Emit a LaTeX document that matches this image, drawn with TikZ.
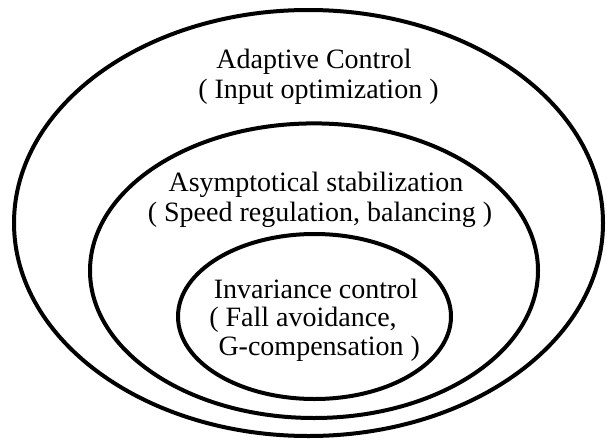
\documentclass[tikz,border=0pt]{standalone}
\usepackage{fontspec}
\setmainfont{Liberation Serif}
\begin{document}
\begin{tikzpicture}[x=1pt,y=-1pt,
  ring/.style={line width=4pt},
  lbl/.style={anchor=base,inner sep=0pt,font=\fontsize{28}{30}\selectfont}]
\useasboundingbox (0,0) rectangle (607,439);
\coordinate (co) at (308.5,223);
\coordinate (cm) at (314,270.7);
\coordinate (ci) at (314.5,316.5);
\draw[ring] (co) ellipse [x radius=294.5, y radius=213];
\draw[ring] (cm) ellipse [x radius=224, y radius=147.3];
\draw[ring] (ci) ellipse [x radius=136.5, y radius=82.5];
\node[lbl] (a1) at (314,68) {Adaptive Control};
\node[lbl] (a2) at (318.4,98.5) {( Input optimization )};
\node[lbl] (b1) at (315.9,191.7) {Asymptotical stabilization};
\node[lbl] (b2) at (320,221.7) {( Speed regulation, balancing )};
\node[lbl] (c1) at (316,298.3) {Invariance control};
\node[lbl] (c2) at (303,326.7) {( Fall avoidance,};
\node[lbl] (c3) at (319.2,355) {G-compensation )};
\end{tikzpicture}
\end{document}
